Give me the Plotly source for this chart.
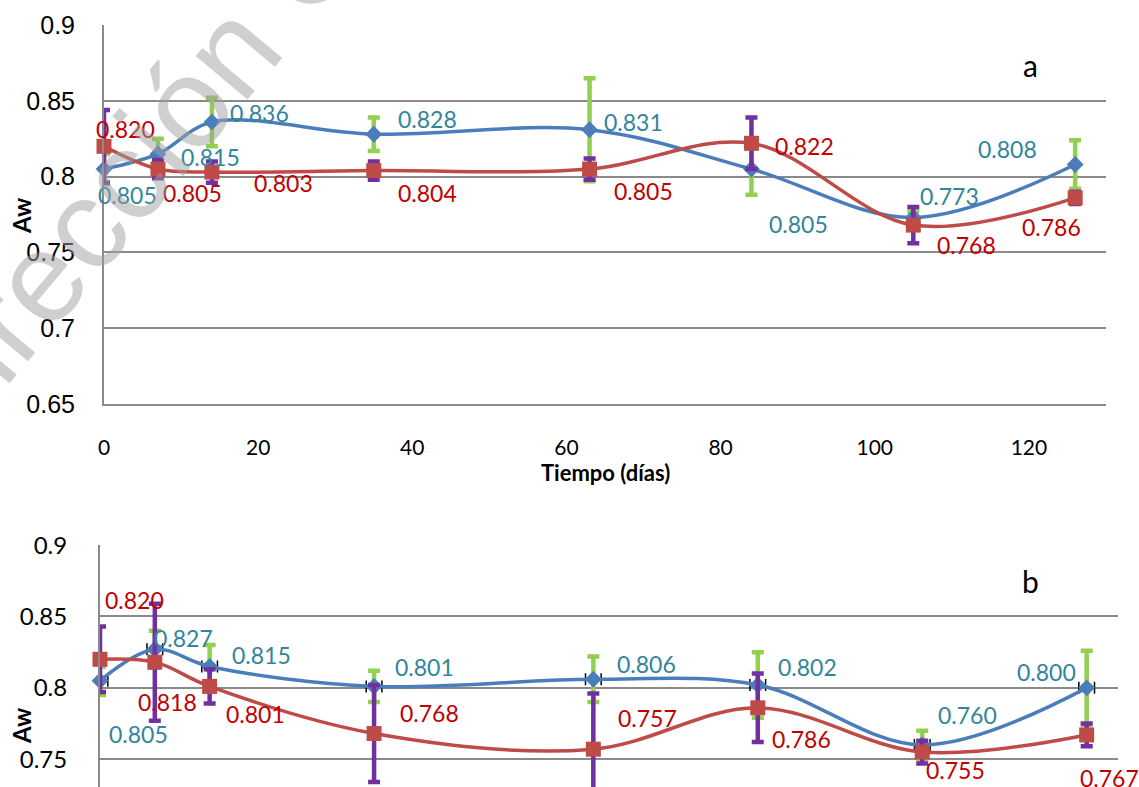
import plotly.graph_objects as go

# ---------------- data ----------------
dias = [0, 7, 14, 35, 63, 84, 105, 126]

# panel a
a_azul = [0.805, 0.815, 0.836, 0.828, 0.831, 0.805, 0.773, 0.808]
a_azul_err = [0.010, 0.010, 0.016, 0.011, 0.034, 0.017, 0.004, 0.016]
a_rojo = [0.820, 0.805, 0.803, 0.804, 0.805, 0.822, 0.768, 0.786]
a_rojo_err = [0.024, 0.006, 0.007, 0.006, 0.007, 0.017, 0.012, 0.004]

# panel b
b_azul = [0.805, 0.827, 0.815, 0.801, 0.806, 0.802, 0.760, 0.800]
b_azul_err = [0.010, 0.013, 0.015, 0.011, 0.016, 0.023, 0.010, 0.026]
b_azul_xerr = [1.0, 1.0, 1.0, 1.0, 1.0, 1.0, 1.0, 1.0]
b_rojo = [0.820, 0.818, 0.801, 0.768, 0.757, 0.786, 0.755, 0.767]
b_rojo_err = [0.023, 0.041, 0.012, 0.034, 0.039, 0.024, 0.008, 0.008]

x_ticks = [0, 20, 40, 60, 80, 100, 120]
y_ticks_a = [0.65, 0.7, 0.75, 0.8, 0.85, 0.9]
y_ticks_b = [0.75, 0.8, 0.85, 0.9]

# ---------------- styles ----------------
W, H = 1139, 787
BLUE = "#4A7EBB"
RED = "#BE4B48"
GREEN = "#92D050"
PURPLE = "#7030A0"
TEAL_TXT = "#31859C"
RED_TXT = "#C00000"
GRID = "#8A8A8A"
LABEL_FONT = "Lato"

# label offsets in pixels (dx right, dy down)
a_azul_off = [(23, 26), (53, 3), (48, -9), (54, -15), (44, -8), (47, 55), (36, -22), (-68, -16)]
a_rojo_off = [(21, -17), (35, 24), (72, 11), (54, 22), (54, 22), (53, 3), (53, 20), (-24, 29)]
b_azul_off = [(38, 53), (29, -11), (52, -11), (50, -19), (53, -15), (50, -18), (45, -30), (-40, -16)]
b_rojo_off = [(34, -59), (13, 40), (46, 28), (55, -20), (54, -31), (44, 31), (33, 18), (23, 43)]

fig = go.Figure()


def add_series(xa, ya, vals, errs, color, ecolor, symbol, size, xerr=None):
    kw = {}
    if xerr is not None:
        kw["error_x"] = dict(type="data", array=xerr, visible=True,
                             color="black", thickness=1.5, width=6)
    fig.add_trace(go.Scatter(
        x=dias, y=vals, xaxis=xa, yaxis=ya, mode="lines+markers",
        line=dict(color=color, width=3.5, shape="spline", smoothing=1),
        marker=dict(symbol=symbol, size=size, color=color),
        error_y=dict(type="data", array=errs, visible=True,
                     color=ecolor, thickness=4.5, width=6),
        cliponaxis=False, showlegend=False, **kw))


add_series("x", "y", a_azul, a_azul_err, BLUE, GREEN, "diamond", 13)
add_series("x", "y", a_rojo, a_rojo_err, RED, PURPLE, "square", 15)
add_series("x2", "y2", b_azul, b_azul_err, BLUE, GREEN, "diamond", 13, xerr=b_azul_xerr)
add_series("x2", "y2", b_rojo, b_rojo_err, RED, PURPLE, "square", 15)

annotations = []


def add_labels(xr, yr, vals, offs, color):
    for d, v, (dx, dy) in zip(dias, vals, offs):
        annotations.append(dict(
            x=d, y=v, xref=xr, yref=yr, text=f"{v:.3f}", showarrow=False,
            xanchor="center", yanchor="middle", xshift=dx, yshift=-dy,
            font=dict(family=LABEL_FONT, size=23, color=color)))


add_labels("x", "y", a_azul, a_azul_off, TEAL_TXT)
add_labels("x", "y", a_rojo, a_rojo_off, RED_TXT)
add_labels("x2", "y2", b_azul, b_azul_off, TEAL_TXT)
add_labels("x2", "y2", b_rojo, b_rojo_off, RED_TXT)

# watermark
annotations.append(dict(
    x=240 / W, y=1 - 40 / H, xref="paper", yref="paper",
    text="Dirección General", showarrow=False, textangle=-50,
    xanchor="center", yanchor="middle",
    font=dict(family="Liberation Sans", size=128, color="rgba(160,160,160,0.5)")))

# panel letters
annotations.append(dict(x=1030 / W, y=1 - 65 / H, xref="paper", yref="paper",
                        text="a", showarrow=False, xanchor="center", yanchor="middle",
                        font=dict(family=LABEL_FONT, size=30, color="black")))
annotations.append(dict(x=1030 / W, y=1 - 581 / H, xref="paper", yref="paper",
                        text="b", showarrow=False, xanchor="center", yanchor="middle",
                        font=dict(family=LABEL_FONT, size=30, color="black")))

# axis titles
annotations.append(dict(x=21 / W, y=1 - 216 / H, xref="paper", yref="paper",
                        text="<b>Aw</b>", showarrow=False, textangle=-90,
                        xanchor="center", yanchor="middle",
                        font=dict(family=LABEL_FONT, size=24, color="black")))
annotations.append(dict(x=21 / W, y=1 - 726 / H, xref="paper", yref="paper",
                        text="<b>Aw</b>", showarrow=False, textangle=-90,
                        xanchor="center", yanchor="middle",
                        font=dict(family=LABEL_FONT, size=24, color="black")))
annotations.append(dict(x=605 / W, y=1 - 472 / H, xref="paper", yref="paper",
                        text="<b>Tiempo (días)</b>", showarrow=False,
                        xanchor="center", yanchor="middle",
                        font=dict(family=LABEL_FONT, size=22, color="black")))

fig.update_layout(
    width=W, height=H,
    margin=dict(l=0, r=0, t=0, b=0, autoexpand=False),
    paper_bgcolor="white", plot_bgcolor="white",
    annotations=annotations,
    xaxis=dict(domain=[104 / W, 1106 / W], range=[0, 130], anchor="y",
               automargin=False,
               tickvals=x_ticks, ticktext=[str(t) for t in x_ticks],
               showgrid=False, zeroline=False, showline=True,
               linecolor=GRID, linewidth=2, ticks="", ticklabelstandoff=24,
               tickfont=dict(family=LABEL_FONT, size=21, color="black")),
    yaxis=dict(domain=[1 - 404 / H, 1 - 25 / H], range=[0.6499, 0.9001], anchor="x",
               automargin=False,
               tickvals=y_ticks_a, ticktext=[f"{t:g}" for t in y_ticks_a],
               showgrid=True, gridcolor=GRID, gridwidth=2, zeroline=False,
               showline=True, linecolor=GRID, linewidth=2, ticks="",
               ticklabelstandoff=22,
               tickfont=dict(family="Liberation Sans", size=25, color="black")),
    xaxis2=dict(domain=[100 / W, 1118 / W], range=[0, 130], anchor="y2",
                automargin=False,
                showticklabels=False, showgrid=False, zeroline=False,
                showline=False, ticks=""),
    yaxis2=dict(domain=[0, 1 - 545 / H], range=[0.7305, 0.9001], anchor="x2",
                automargin=False,
                tickvals=y_ticks_b, ticktext=[f"{t:g}" for t in y_ticks_b],
                showgrid=True, gridcolor=GRID, gridwidth=2, zeroline=False,
                showline=True, linecolor=GRID, linewidth=2, ticks="",
                ticklabelstandoff=26,
                tickfont=dict(family=LABEL_FONT, size=24, color="black")),
)

fig.write_html(
    "out.html",
    config={"displayModeBar": False},
    post_script="document.body.style.margin='0px';document.body.style.padding='0px';",
)
